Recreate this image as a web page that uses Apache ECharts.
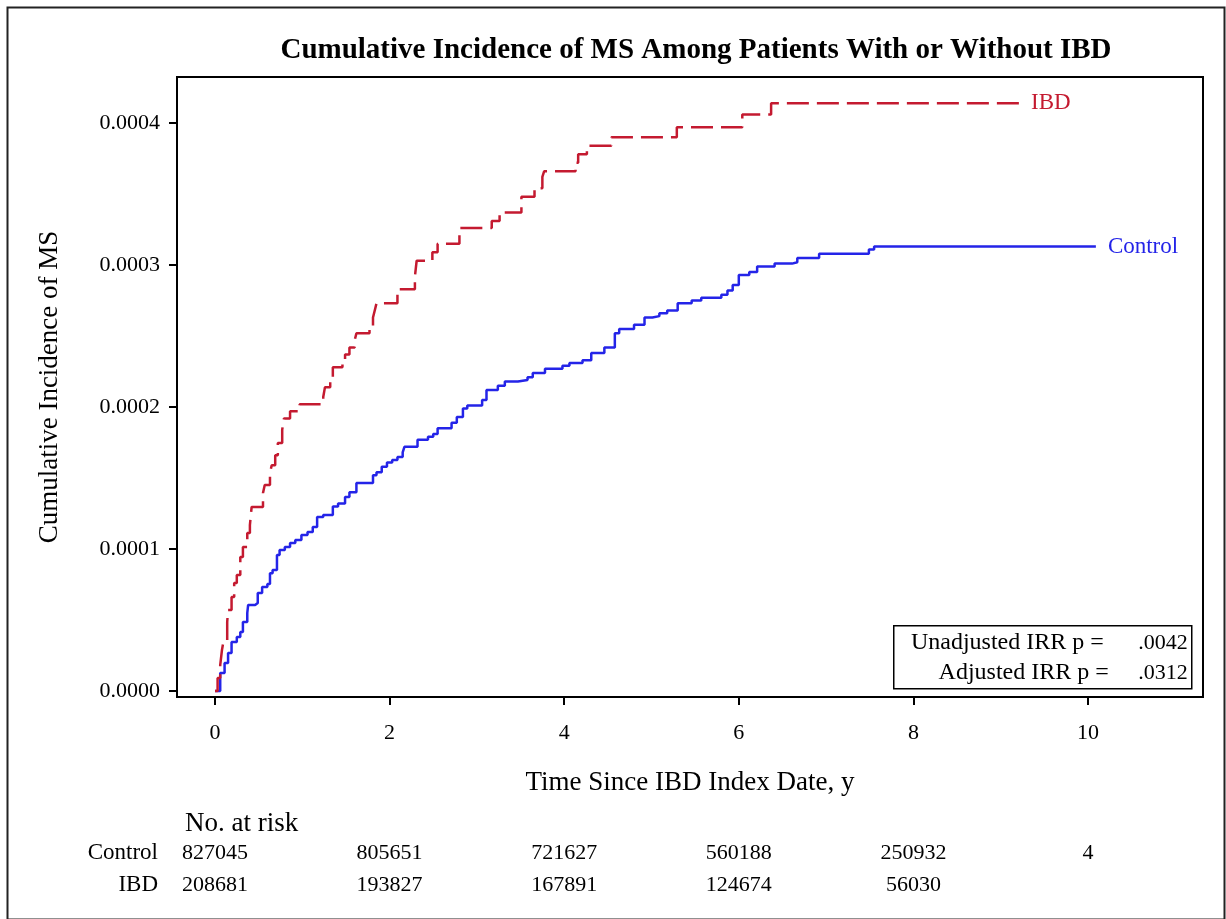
<!DOCTYPE html>
<html>
<head>
<meta charset="utf-8">
<title>Cumulative Incidence of MS</title>
<script src="https://cdn.jsdelivr.net/npm/echarts@6/dist/echarts.min.js"></script>
<style>
    html, body { margin: 0; padding: 0; background: #fff; }
    #chart { width: 1226px; height: 919px; }
</style>
</head>
<body>
<div id="chart"></div>
<script>
// x = years since index date, y = cumulative incidence
const ibdCurve = [
    [0, 0], [0.03, 0.0000092], [0.06, 0.0000183], [0.08, 0.0000289], [0.10, 0.0000359],
    [0.14, 0.0000486], [0.15, 0.0000570], [0.19, 0.0000662], [0.22, 0.0000760], [0.25, 0.0000817],
    [0.29, 0.0000944], [0.32, 0.0001014], [0.37, 0.0001113], [0.40, 0.0001169], [0.42, 0.0001296],
    [0.55, 0.0001394], [0.57, 0.0001451], [0.63, 0.0001535], [0.65, 0.0001590], [0.69, 0.0001660],
    [0.72, 0.0001746], [0.77, 0.0001840], [0.79, 0.0001920], [0.86, 0.0001970], [0.97, 0.0002020],
    [1.24, 0.0002070], [1.26, 0.0002140], [1.32, 0.0002210], [1.35, 0.0002280], [1.46, 0.0002320],
    [1.49, 0.0002370], [1.54, 0.0002420], [1.60, 0.0002470], [1.62, 0.0002520], [1.77, 0.0002560],
    [1.81, 0.0002630], [1.83, 0.0002680], [1.85, 0.0002730], [2.09, 0.0002830], [2.29, 0.0002920],
    [2.31, 0.0003030], [2.49, 0.0003090], [2.55, 0.0003150], [2.80, 0.0003260], [3.17, 0.0003310],
    [3.26, 0.0003370], [3.51, 0.0003480], [3.66, 0.0003540], [3.75, 0.0003620], [3.77, 0.0003660],
    [4.13, 0.0003720], [4.16, 0.0003780], [4.26, 0.0003840], [4.54, 0.0003900], [5.29, 0.0003970],
    [6.04, 0.0004060], [6.37, 0.0004140], [9.21, 0.0004140]
];

const controlCurve = [
    [0, 0], [0.06, 0.0000127], [0.11, 0.0000197], [0.15, 0.0000268], [0.19, 0.0000345],
    [0.25, 0.0000380], [0.29, 0.0000415], [0.32, 0.0000486], [0.37, 0.0000550], [0.38, 0.0000606],
    [0.46, 0.0000620], [0.49, 0.0000690], [0.54, 0.0000732], [0.60, 0.0000754], [0.63, 0.0000830],
    [0.66, 0.0000852], [0.71, 0.0000958], [0.74, 0.0000993], [0.80, 0.0001014], [0.86, 0.0001042],
    [0.92, 0.0001063], [0.99, 0.0001099], [1.06, 0.0001120], [1.12, 0.0001155], [1.17, 0.0001225],
    [1.24, 0.0001240], [1.35, 0.0001300], [1.41, 0.0001320], [1.49, 0.0001366], [1.54, 0.0001400],
    [1.62, 0.0001465], [1.81, 0.0001520], [1.85, 0.0001540], [1.91, 0.0001580], [1.97, 0.0001610],
    [2.03, 0.0001627], [2.09, 0.0001648], [2.15, 0.0001680], [2.17, 0.0001720], [2.32, 0.0001770],
    [2.44, 0.0001790], [2.50, 0.0001810], [2.55, 0.0001850], [2.71, 0.0001890], [2.77, 0.0001930],
    [2.84, 0.0001990], [2.89, 0.0002010], [3.06, 0.0002050], [3.11, 0.0002120], [3.24, 0.0002150],
    [3.32, 0.0002180], [3.47, 0.0002190], [3.58, 0.0002210], [3.64, 0.0002240], [3.78, 0.0002270],
    [3.98, 0.0002290], [4.06, 0.0002310], [4.21, 0.0002330], [4.31, 0.0002380], [4.46, 0.0002420],
    [4.58, 0.0002520], [4.63, 0.0002550], [4.80, 0.0002580], [4.92, 0.0002630], [5.01, 0.0002640],
    [5.09, 0.0002660], [5.18, 0.0002680], [5.30, 0.0002730], [5.46, 0.0002750], [5.57, 0.0002770],
    [5.80, 0.0002790], [5.87, 0.0002820], [5.93, 0.0002860], [6.00, 0.0002930], [6.12, 0.0002950],
    [6.21, 0.0002990], [6.41, 0.0003010], [6.61, 0.0003020], [6.67, 0.0003050], [6.92, 0.0003080],
    [7.49, 0.0003110], [7.55, 0.0003130], [10.09, 0.0003130]
];

const xTicks = [0, 2, 4, 6, 8, 10];
const yTicks = [0, 0.0001, 0.0002, 0.0003, 0.0004];

const riskGroups = ['Control', 'IBD'];
const riskTimes = [0, 2, 4, 6, 8, 10];
const controlAtRisk = [827045, 805651, 721627, 560188, 250932, 4];
const ibdAtRisk = [208681, 193827, 167891, 124674, 56030];

const irrLabels = ['Unadjusted IRR p =', 'Adjusted IRR p ='];
const irrValues = ['.0042', '.0312'];

const FONT = "'Liberation Serif', 'Times New Roman', serif";
const RED = '#c41a30';
const BLUE = '#2424e8';
const X_MIN = -0.435, X_MAX = 11.317;
const Y_MIN = -0.0000042, Y_MAX = 0.0004324;

const chart = echarts.init(document.getElementById('chart'));

const riskPoints = (group, counts) => counts.map((n, i) => [riskTimes[i], group, n]);

const riskSeries = (group, counts) => ({
    type: 'scatter',
    xAxisIndex: 1,
    yAxisIndex: 1,
    symbolSize: 0,
    silent: true,
    itemStyle: { opacity: 1 },
    label: {
        show: true,
        position: 'inside',
        formatter: p => String(p.value[2]),
        color: '#000',
        textBorderWidth: 0,
        fontFamily: FONT,
        fontSize: 22
    },
    data: riskPoints(group, counts)
});

const option = {
    animation: false,
    backgroundColor: '#ffffff',
    textStyle: { fontFamily: FONT, color: '#000' },
    title: [{
        text: 'Cumulative Incidence of MS Among Patients With or Without IBD',
        left: 691,
        textAlign: 'center',
        top: 31,
        textStyle: { fontFamily: FONT, fontWeight: 'bold', fontSize: 29, color: '#000' }
    }, {
        text: 'No. at risk',
        left: 180,
        top: 805,
        textStyle: { fontFamily: FONT, fontWeight: 'normal', fontSize: 27, color: '#000' }
    }],
    grid: [{
        left: 177,
        top: 77,
        width: 1026,
        height: 620,
        show: true,
        borderColor: '#000',
        borderWidth: 2,
        outerBoundsMode: 'none'
    }, {
        left: 177,
        top: 837,
        width: 1026,
        height: 64,
        outerBoundsMode: 'none'
    }],
    xAxis: [{
        type: 'value',
        gridIndex: 0,
        min: X_MIN,
        max: X_MAX,
        name: 'Time Since IBD Index Date, y',
        nameLocation: 'middle',
        nameGap: 72,
        nameTextStyle: { fontFamily: FONT, fontSize: 27, color: '#000' },
        axisLine: { show: false, onZero: false },
        axisTick: { show: true, inside: false, length: 8, customValues: xTicks, lineStyle: { color: '#000', width: 2 } },
        axisLabel: { customValues: xTicks, margin: 25, fontFamily: FONT, fontSize: 22, color: '#000' },
        splitLine: { show: false }
    }, {
        type: 'value',
        gridIndex: 1,
        min: X_MIN,
        max: X_MAX,
        show: false
    }],
    yAxis: [{
        type: 'value',
        gridIndex: 0,
        min: Y_MIN,
        max: Y_MAX,
        name: 'Cumulative Incidence of MS',
        nameLocation: 'middle',
        nameGap: 114,
        nameTextStyle: { fontFamily: FONT, fontSize: 27, color: '#000' },
        axisLine: { show: false, onZero: false },
        axisTick: { show: true, inside: false, length: 8, customValues: yTicks, lineStyle: { color: '#000', width: 2 } },
        axisLabel: {
            customValues: yTicks,
            margin: 17,
            fontFamily: FONT,
            fontSize: 22,
            color: '#000',
            formatter: v => v.toFixed(4)
        },
        splitLine: { show: false }
    }, {
        type: 'category',
        gridIndex: 1,
        data: riskGroups,
        inverse: true,
        axisLine: { show: false, onZero: false },
        axisTick: { show: false },
        axisLabel: { margin: 19, fontFamily: FONT, fontSize: 23, color: '#000' },
        splitLine: { show: false }
    }],
    series: [{
        name: 'IBD',
        type: 'line',
        step: 'end',
        symbol: 'none',
        data: ibdCurve,
        lineStyle: { color: RED, width: 2.5, type: [22, 8] },
        itemStyle: { color: RED },
        endLabel: {
            show: true,
            formatter: 'IBD',
            distance: 12,
            color: RED,
            fontFamily: FONT,
            fontSize: 23
        },
        z: 3
    }, {
        name: 'Control',
        type: 'line',
        step: 'end',
        symbol: 'none',
        data: controlCurve,
        lineStyle: { color: BLUE, width: 2.5 },
        itemStyle: { color: BLUE },
        endLabel: {
            show: true,
            formatter: 'Control',
            distance: 12,
            color: BLUE,
            fontFamily: FONT,
            fontSize: 23
        },
        z: 2
    },
    riskSeries('Control', controlAtRisk),
    riskSeries('IBD', ibdAtRisk)
    ],
    graphic: [{
        type: 'rect',
        left: 5,
        top: 5,
        shape: { width: 1217, height: 912 },
        style: { fill: 'none', stroke: '#222', lineWidth: 2 },
        silent: true
    }, {
        type: 'group',
        left: 893,
        top: 625,
        children: [{
            type: 'rect',
            shape: { x: 0, y: 0, width: 298, height: 63 },
            style: { fill: '#fff', stroke: '#000', lineWidth: 1.5 }
        }, {
            type: 'text',
            x: 210, y: 17,
            style: { text: irrLabels[0], align: 'right', verticalAlign: 'middle', font: "24px " + FONT, fill: '#000' }
        }, {
            type: 'text',
            x: 294, y: 17,
            style: { text: irrValues[0], align: 'right', verticalAlign: 'middle', font: "22px " + FONT, fill: '#000' }
        }, {
            type: 'text',
            x: 215, y: 47,
            style: { text: irrLabels[1], align: 'right', verticalAlign: 'middle', font: "24px " + FONT, fill: '#000' }
        }, {
            type: 'text',
            x: 294, y: 47,
            style: { text: irrValues[1], align: 'right', verticalAlign: 'middle', font: "22px " + FONT, fill: '#000' }
        }]
    }]
};

chart.setOption(option);
</script>
</body>
</html>
